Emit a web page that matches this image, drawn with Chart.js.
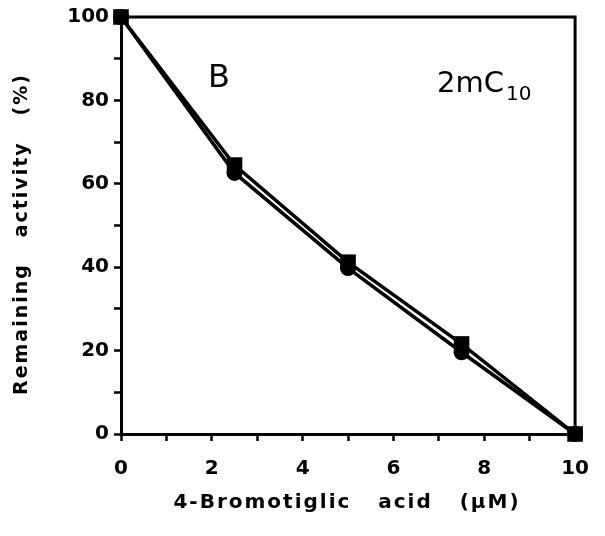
<!DOCTYPE html>
<html>
<head>
<meta charset="utf-8">
<script src="https://cdn.jsdelivr.net/npm/chart.js@4.4.1/dist/chart.umd.min.js"></script>
<style>
  html, body { margin: 0; padding: 0; background: #fff; }
  #wrap { width: 605px; height: 536px; }
</style>
</head>
<body>
<div id="wrap"><canvas id="c" width="605" height="536"></canvas></div>
<script>
// 4-Bromotiglic acid concentration (µM)
const concentrations = [0, 2.5, 5, 7.5, 10];
// Remaining activity (%) — square markers
const activitySquares = [100, 64.5, 41.2, 21.6, 0];
// Remaining activity (%) — circle markers
const activityCircles = [100, 62.6, 39.8, 19.6, 0];
const xTickLabels = [0, 2, 4, 6, 8, 10];
const yTickLabels = [0, 20, 40, 60, 80, 100];
const xTitle = '4-Bromotiglic   acid   (µM)';
const yTitle = 'Remaining   activity   (%)';

const toPoints = (xs, ys) => xs.map((x, i) => ({ x: x, y: ys[i] }));

// Frame on the top and right of the plot, axis titles and panel labels
const decorPlugin = {
  id: 'decor',
  afterDraw(chart) {
    const { ctx, chartArea: a } = chart;
    ctx.save();
    ctx.strokeStyle = '#000';
    ctx.lineWidth = 3;
    ctx.beginPath();
    ctx.moveTo(a.left, a.top);
    ctx.lineTo(a.right, a.top);
    ctx.lineTo(a.right, a.bottom);
    ctx.stroke();

    ctx.fillStyle = '#000';
    // axis titles, letter-spaced
    ctx.letterSpacing = '2px';
    ctx.textAlign = 'center';
    ctx.textBaseline = 'middle';
    ctx.font = 'bold 20px "DejaVu Sans", sans-serif';
    ctx.fillText(xTitle, 347, 503);
    ctx.save();
    ctx.translate(22, 395);
    ctx.rotate(-Math.PI / 2);
    ctx.textAlign = 'left';
    ctx.font = 'bold 19px "DejaVu Sans", sans-serif';
    ctx.fillText(yTitle, 0, 0);
    ctx.restore();

    // panel letter and strain label
    ctx.letterSpacing = '0px';
    ctx.textAlign = 'left';
    ctx.textBaseline = 'alphabetic';
    ctx.font = '32px "DejaVu Sans", sans-serif';
    ctx.fillText('B', 208, 87);
    ctx.font = '29px "DejaVu Sans", sans-serif';
    ctx.fillText('2mC', 437, 92);
    ctx.font = '20px "DejaVu Sans", sans-serif';
    ctx.fillText('10', 506, 100);
    ctx.restore();
  }
};

const fontTick = { family: '"DejaVu Sans", sans-serif', size: 20, weight: 'bold' };

const lineStyle = {
  showLine: true,
  borderColor: '#000',
  backgroundColor: '#000',
  borderWidth: 3.5,
  tension: 0,
  pointBorderWidth: 0,
  clip: false
};

new Chart(document.getElementById('c'), {
  type: 'scatter',
  data: {
    datasets: [
      Object.assign({
        label: 'squares',
        data: toPoints(concentrations, activitySquares),
        pointStyle: 'rect',
        pointRadius: 11
      }, lineStyle),
      Object.assign({
        label: 'circles',
        data: toPoints(concentrations, activityCircles),
        pointStyle: 'circle',
        pointRadius: 8
      }, lineStyle)
    ]
  },
  options: {
    responsive: false,
    animation: false,
    layout: { padding: { top: 14, right: 29, left: 0, bottom: 0 } },
    plugins: { legend: { display: false }, tooltip: { enabled: false } },
    scales: {
      x: {
        type: 'linear',
        min: 0, max: 10,
        afterBuildTicks(scale) {
          scale.ticks = [];
          for (let v = 0; v <= 10; v++) scale.ticks.push({ value: v });
        },
        afterFit(scale) { scale.height = 102; },
        grid: { drawOnChartArea: false, drawTicks: true, tickLength: 7, tickWidth: 2.5, tickColor: '#000' },
        border: { display: true, color: '#000', width: 3 },
        ticks: {
          color: '#000', font: fontTick, padding: 16, maxRotation: 0, autoSkip: false,
          callback: (v) => xTickLabels.includes(v) ? String(v) : ''
        }
      },
      y: {
        type: 'linear',
        min: 0, max: 100,
        afterBuildTicks(scale) {
          scale.ticks = [];
          for (let v = 0; v <= 100; v += 10) scale.ticks.push({ value: v });
        },
        afterFit(scale) { scale.width = 121; },
        grid: { drawOnChartArea: false, drawTicks: true, tickLength: 7, tickWidth: 2.5, tickColor: '#000' },
        border: { display: true, color: '#000', width: 3 },
        ticks: {
          color: '#000', font: fontTick, padding: 5, autoSkip: false,
          callback: (v) => yTickLabels.includes(v) ? String(v) : ''
        }
      }
    }
  },
  plugins: [decorPlugin]
});
</script>
</body>
</html>
